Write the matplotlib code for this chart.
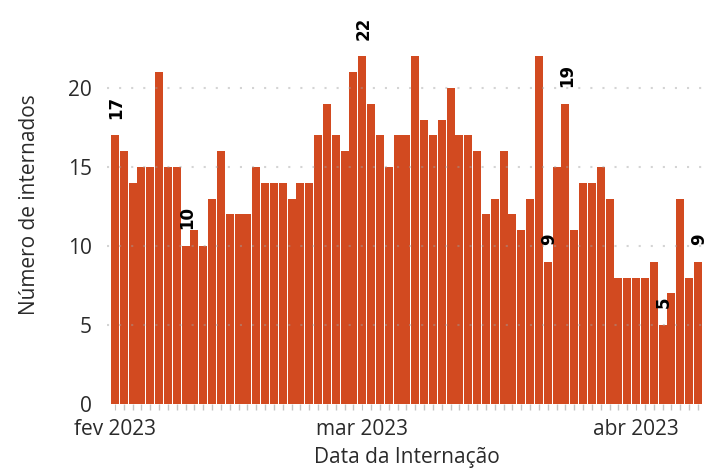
import numpy as np
import pandas as pd
import matplotlib
matplotlib.use('Agg')
import matplotlib.pyplot as plt
import matplotlib.dates as mdates

# daily admissions, 1 Feb -> 8 Apr 2023
dates = pd.date_range('2023-02-01', '2023-04-08', freq='D')
counts = [17, 16, 14, 15, 15, 21, 15, 15, 10, 11, 10, 13, 16, 12, 12, 12,
          15, 14, 14, 14, 13, 14, 14, 17, 19, 17, 16, 21,
          22, 19, 17, 15, 17, 17, 22, 18, 17, 18, 20, 17, 17, 16, 12, 13,
          16, 12, 11, 13, 22, 9, 15, 19, 11, 14, 14, 15, 13, 8, 8,
          8, 8, 9, 5, 7, 13, 8, 9]

# bars that carry a value label
label_dates = ['2023-02-01', '2023-02-09', '2023-03-01', '2023-03-22',
               '2023-03-24', '2023-04-04', '2023-04-08']

month_ticks = ['2023-02-01', '2023-03-01', '2023-04-01']
month_labels = ['fev 2023', 'mar 2023', 'abr 2023']

bar_color = '#d24a20'
text_color = '#2a2a2a'
font = ['Open Sans', 'DejaVu Sans']

plt.rcParams['font.family'] = font

fig = plt.figure(figsize=(7.08, 4.68), dpi=100)
ax = fig.add_axes([0.151, 0.1368, 0.846, 0.810])

x = mdates.date2num(dates)
ax.bar(x, counts, width=0.9, color=bar_color, zorder=2)

# value labels
for d in label_dates:
    i = list(dates).index(pd.Timestamp(d))
    ax.annotate(str(counts[i]), (x[i], counts[i]), xytext=(1, 12),
                textcoords='offset points', rotation=90, ha='center',
                va='bottom', fontsize=12, fontweight='bold',
                family='DejaVu Sans', color='black')

#grid on top of the bars, light dotted
for v in [5, 10, 15, 20]:
    ax.axhline(v, color='#a0a0a0', lw=1.5, linestyle=(0, (1, 4.8)),
               alpha=0.45, zorder=3)

ax.set_xlim(x[0] - 0.9, x[-1] + 0.9)
ax.set_ylim(0, 24)
ax.set_yticks([0, 5, 10, 15, 20])

ax.set_xticks(mdates.date2num(pd.to_datetime(month_ticks)))
ax.set_xticklabels(month_labels)
ax.set_xticks(x, minor=True)

ax.tick_params(axis='y', length=0, pad=11, labelsize=15, labelcolor=text_color)
ax.tick_params(axis='x', which='major', length=4, color='#c4c4c4',
               pad=7, labelsize=15, labelcolor=text_color)
ax.tick_params(axis='x', which='minor', length=4, color='#c4c4c4', width=1)

for s in ax.spines.values():
    s.set_visible(False)

ax.set_xlabel('Data da Internação', fontsize=15, color=text_color, labelpad=5)
ax.set_ylabel('Número de internados', fontsize=15, color=text_color)
ax.yaxis.set_label_coords(-0.112, 0.525)

fig.savefig('out.png', dpi=100)
